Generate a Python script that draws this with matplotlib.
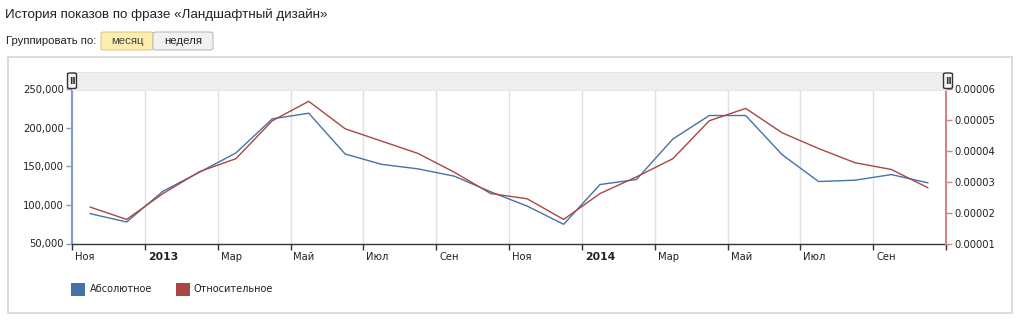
import matplotlib
matplotlib.use("Agg")
import matplotlib.pyplot as plt
from matplotlib.patches import Rectangle, FancyBboxPatch
from matplotlib.ticker import FuncFormatter, FixedLocator
import matplotlib.transforms as mtransforms

# ---- data (Nov 2012 .. Oct 2014, monthly) ----
months = ["Ноя 2012", "Дек 2012", "Янв 2013", "Фев 2013", "Мар 2013", "Апр 2013",
          "Май 2013", "Июн 2013", "Июл 2013", "Авг 2013", "Сен 2013", "Окт 2013",
          "Ноя 2013", "Дек 2013", "Янв 2014", "Фев 2014", "Мар 2014", "Апр 2014",
          "Май 2014", "Июн 2014", "Июл 2014", "Авг 2014", "Сен 2014", "Окт 2014"]
absolute = [88700, 77900, 117900, 142400, 167400, 211700,
            219000, 166100, 152700, 146800, 137300, 117000,
            98500, 74900, 126500, 133000, 185500, 216000,
            216000, 165200, 130400, 132100, 139400, 128700]
relative = [2.18e-5, 1.78e-5, 2.62e-5, 3.33e-5, 3.75e-5, 4.98e-5,
            5.61e-5, 4.72e-5, 4.32e-5, 3.92e-5, 3.31e-5, 2.62e-5,
            2.45e-5, 1.78e-5, 2.62e-5, 3.16e-5, 3.75e-5, 4.98e-5,
            5.38e-5, 4.59e-5, 4.08e-5, 3.62e-5, 3.40e-5, 2.81e-5]
tick_labels = ["Ноя", "2013", "Мар", "Май", "Июл", "Сен",
               "Ноя", "2014", "Мар", "Май", "Июл", "Сен"]
left_ticks = [50000, 100000, 150000, 200000, 250000]
right_ticks = [1e-5, 2e-5, 3e-5, 4e-5, 5e-5, 6e-5]
series_names = ["Абсолютное", "Относительное"]

BLUE = "#4572A7"
RED = "#AA4643"
BLUE_AXIS = "#7f9dca"
RED_AXIS = "#d08784"
W, H = 1024, 326

plt.rcParams['font.family'] = ['DejaVu Sans']
fig = plt.figure(figsize=(W / 100, H / 100), dpi=100)
fig.patch.set_facecolor("white")

def fx(px):
    return px / W

def fy(py):
    return 1 - py / H

# header texts
fig.text(fx(5), fy(15), "История показов по фразе «Ландшафтный дизайн»",
         family="Liberation Sans", fontsize=9.6, color="#222222", va="center", ha="left")
fig.text(fx(6), fy(41), "Группировать по:", family="Liberation Sans", fontsize=8.2,
         color="#222222", va="center", ha="left")
# buttons
fig.patches.append(FancyBboxPatch((fx(101), fy(50)), fx(52), fy(32) - fy(50),
                                  boxstyle="round,pad=0,rounding_size=0.004",
                                  transform=fig.transFigure, facecolor="#fdeeb0",
                                  edgecolor="#d9c98a", linewidth=0.8))
fig.patches.append(FancyBboxPatch((fx(153), fy(50)), fx(60), fy(32) - fy(50),
                                  boxstyle="round,pad=0,rounding_size=0.004",
                                  transform=fig.transFigure, facecolor="#f1f1f1",
                                  edgecolor="#bdbdbd", linewidth=0.8))
fig.text(fx(127), fy(41), "месяц", family="Liberation Sans", fontsize=8.2,
         color="#444444", va="center", ha="center")
fig.text(fx(183), fy(41), "неделя", family="Liberation Sans", fontsize=8.2,
         color="#222222", va="center", ha="center")

# chart panel box
fig.patches.append(Rectangle((fx(7.5), fy(312.5)), fx(1004), fy(57) - fy(312.5),
                             transform=fig.transFigure, facecolor="white",
                             edgecolor="#d6d6d6", linewidth=1.2, zorder=-10))

# navigator band
fig.patches.append(Rectangle((fx(72), fy(89.5)), fx(874), fy(72) - fy(89.5),
                             transform=fig.transFigure, facecolor="#eeeeee",
                             edgecolor="#e2e2e2", linewidth=0.6, zorder=1))
for hx in (67.5, 943.5):
    fig.patches.append(FancyBboxPatch((fx(hx), fy(88.5)), fx(9), fy(73) - fy(88.5),
                                      boxstyle="round,pad=0,rounding_size=0.003",
                                      transform=fig.transFigure, facecolor="#f4f4f4",
                                      edgecolor="#333333", linewidth=1.0, zorder=3))
    fig.text(fx(hx + 4.5), fy(81), "II", fontsize=6.5, color="#333333",
             ha="center", va="center", zorder=4, fontweight="bold")

# main axes
left, right, top, bottom = 72, 946, 89.3, 243.5
ax = fig.add_axes([fx(left), fy(bottom), fx(right - left), fy(top) - fy(bottom)])
ax.set_facecolor("none")
ax2 = ax.twinx()

xs = [i + 0.5 for i in range(len(months))]
ax.plot(xs, absolute, color=BLUE, lw=1.0, zorder=3)
ax2.plot(xs, relative, color=RED, lw=1.0, zorder=3)

ax.set_xlim(0, 24)
ax.set_ylim(50000, 250000)
ax2.set_ylim(1e-5, 6e-5)

ax.xaxis.set_major_locator(FixedLocator(list(range(0, 25, 2))))
ax.set_xticklabels([])
ax.grid(axis="x", color="#e0e0e0", lw=1.0)
ax.tick_params(axis="x", length=4, width=1, color="#333333", direction="out", pad=2)

offset = mtransforms.ScaledTranslation(3 / 100, -1 / 100, fig.dpi_scale_trans)
for i, lab in enumerate(tick_labels):
    bold = lab.isdigit()
    ax.text(i * 2, -0.08, lab, transform=ax.get_xaxis_transform() + offset,
            ha="left", va="center", fontsize=7.2 if not bold else 7.8,
            fontweight="bold" if bold else "normal", color="#222222")

ax.set_yticks(left_ticks)
ax.yaxis.set_major_formatter(FuncFormatter(lambda v, p: f"{int(v):,}"))
ax.tick_params(axis="y", length=4, width=1, color=BLUE_AXIS, labelsize=7.2,
               labelcolor="#222222", pad=2)
ax2.set_yticks(right_ticks)
ax2.yaxis.set_major_formatter(FuncFormatter(lambda v, p: f"{v:.5f}"))
ax2.tick_params(axis="y", length=4, width=1, color=RED_AXIS, labelsize=7.2,
                labelcolor="#222222", pad=2)

for a in (ax, ax2):
    a.spines["top"].set_visible(False)
    a.spines["left"].set_visible(False)
    a.spines["right"].set_visible(False)
    a.spines["bottom"].set_visible(False)
ax.spines["left"].set_visible(True)
ax.spines["left"].set_color(BLUE_AXIS)
ax.spines["left"].set_linewidth(1.5)
ax.spines["bottom"].set_visible(True)
ax.spines["bottom"].set_color("#333333")
ax.spines["bottom"].set_linewidth(1.0)
ax2.spines["right"].set_visible(True)
ax2.spines["right"].set_color(RED_AXIS)
ax2.spines["right"].set_linewidth(1.5)

# legend
for (sx, tx), col, name in zip(((71, 90), (176, 194)), (BLUE, RED), series_names):
    fig.patches.append(Rectangle((fx(sx), fy(295.5)), fx(14), fy(283) - fy(295.5),
                                 transform=fig.transFigure, facecolor=col,
                                 edgecolor="none", zorder=3))
    fig.text(fx(tx), fy(289), name, fontsize=7.0, color="#222222",
             ha="left", va="center")

fig.savefig("out.png", dpi=100)
